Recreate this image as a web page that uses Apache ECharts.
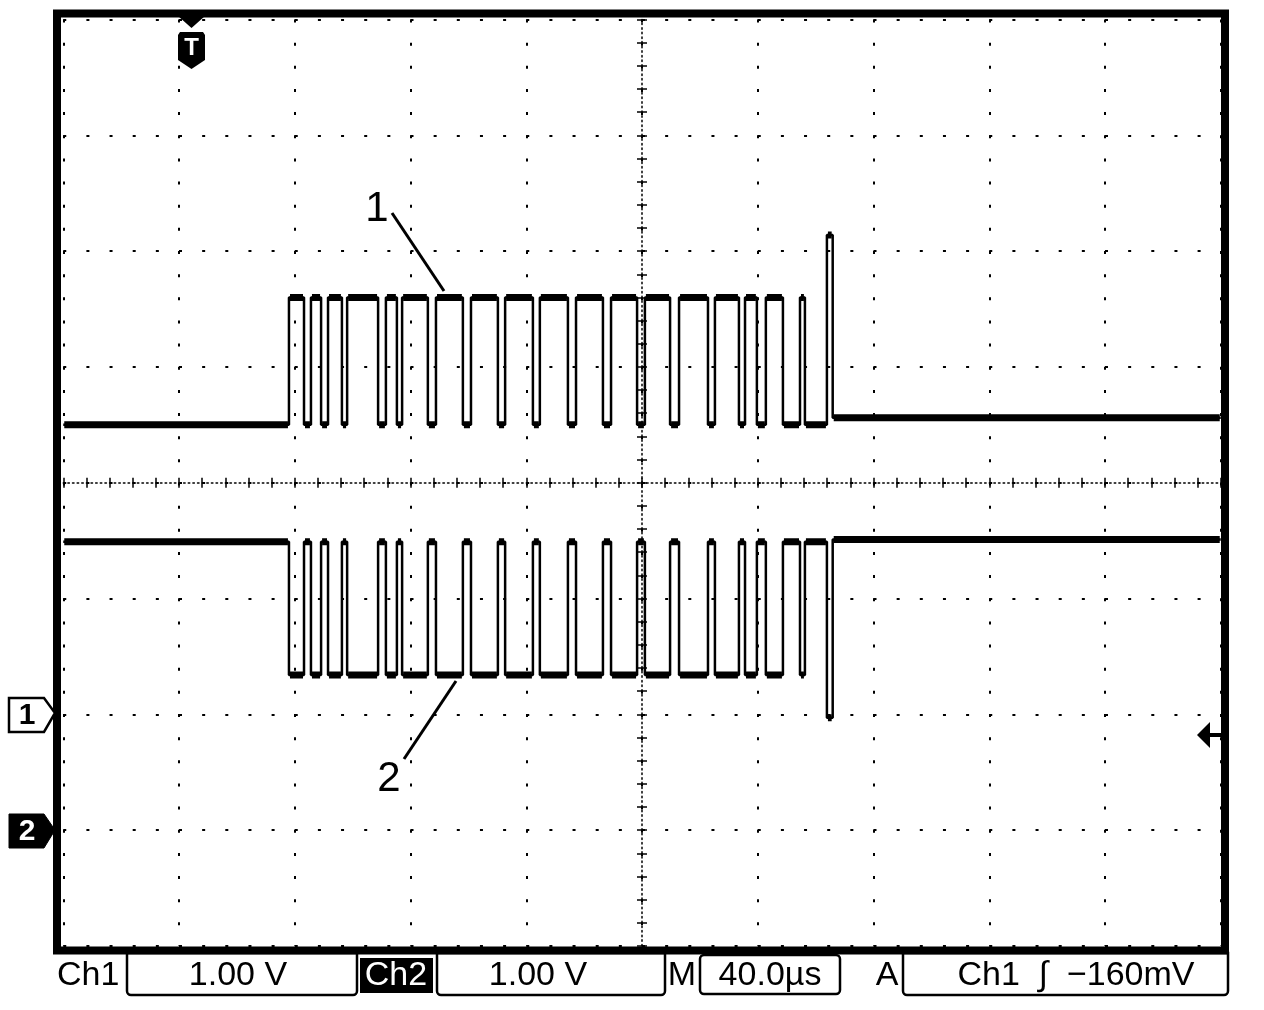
<!DOCTYPE html>
<html>
<head>
<meta charset="utf-8">
<script src="https://cdn.jsdelivr.net/npm/echarts@6/dist/echarts.min.js"></script>
<style>
html,body{margin:0;padding:0;background:#fff;}
#c{width:1264px;height:1010px;}
</style>
</head>
<body>
<div id="c"></div>
<script>
// ---- time base (µs, 40 µs/div, 10 div) ----
const timeRange = [0, 400];
const timeInterval = 40;

// ---- Ch1 (1.00 V/div, ground marker 2 div below centre) ----
const ch1Range = [-2, 6];
const ch1StartLevel = 2.50;
const ch1Times  = [78.0, 83.2, 85.6, 89.1, 91.5, 96.3, 98.1, 108.8, 111.5, 115.3, 117.1, 126.0, 128.8,
                   138.1, 140.9, 150.2, 152.7, 162.3, 164.7, 174.4, 177.2, 186.5, 189.3, 198.3, 201.0,
                   209.7, 212.8, 222.8, 225.2, 233.5, 235.6, 239.7, 242.8, 248.7, 254.6, 256.3, 263.9, 265.9];
const ch1Levels = [3.60, 2.50, 3.60, 2.50, 3.60, 2.50, 3.60, 2.50, 3.60, 2.50, 3.60, 2.50, 3.60,
                   2.50, 3.60, 2.50, 3.60, 2.50, 3.60, 2.50, 3.60, 2.50, 3.60, 2.50, 3.60,
                   2.50, 3.60, 2.50, 3.60, 2.50, 3.60, 2.50, 3.60, 2.50, 3.60, 2.50, 4.14, 2.56];

// ---- Ch2 (1.00 V/div, ground marker 3 div below centre) ----
const ch2Range = [-1, 7];
const ch2StartLevel = 2.49;
const ch2Times  = [78.0, 83.2, 85.6, 89.1, 91.5, 96.3, 98.1, 108.8, 111.5, 115.3, 117.1, 126.0, 128.8,
                   138.1, 140.9, 150.2, 152.7, 162.3, 164.7, 174.4, 177.2, 186.5, 189.3, 198.3, 201.0,
                   209.7, 212.8, 222.8, 225.2, 233.5, 235.6, 239.7, 242.8, 248.7, 254.6, 256.3, 263.9, 265.9];
const ch2Levels = [1.34, 2.49, 1.34, 2.49, 1.34, 2.49, 1.34, 2.49, 1.34, 2.49, 1.34, 2.49, 1.34,
                   2.49, 1.34, 2.49, 1.34, 2.49, 1.34, 2.49, 1.34, 2.49, 1.34, 2.49, 1.34,
                   2.49, 1.34, 2.49, 1.34, 2.49, 1.34, 2.49, 1.34, 2.49, 1.34, 2.49, 0.97, 2.51];

// ---- status bar texts ----
const statusCh1 = "Ch1", statusCh1Scale = "1.00 V";
const statusCh2 = "Ch2", statusCh2Scale = "1.00 V";
const statusM = "M", statusTime = "40.0µs";
const statusA = "A", statusTrig = "Ch1  \u222B  \u2212160mV";
const traceLabels = ["1", "2"];

function stepPoints(times, levels, start, end, startLevel) {
  const pts = [[start, startLevel]];
  let cur = startLevel;
  times.forEach((t, i) => { pts.push([t, cur]); pts.push([t, levels[i]]); cur = levels[i]; });
  pts.push([end, cur]);
  return pts;
}
function flatPoints(times, levels, start, end, startLevel) {
  const pts = [];
  const bounds = [start].concat(times).concat([end]);
  const lv = [startLevel].concat(levels);
  for (let i = 0; i < lv.length; i++) {
    const a = bounds[i], b = bounds[i + 1];
    if (b - a < 1.2) continue;
    pts.push([a + 0.35, lv[i]]); pts.push([b - 0.35, lv[i]]); pts.push(null);
  }
  return pts;
}

const G = {left: 63.25, top: 19.5, width: 1157.5, height: 926.4};
const dot = [3, 20.15];

const chart = echarts.init(document.getElementById('c'), null, {renderer: 'canvas'});
const tickStyle = {color: '#000', width: 1.5};
const statusFont = '34px "Liberation Sans", Arial';

chart.setOption({
  animation: false,
  backgroundColor: '#fff',
  grid: [Object.assign({}, G), Object.assign({}, G), Object.assign({}, G)],
  xAxis: [
    {gridIndex: 0, type: 'value', min: timeRange[0], max: timeRange[1], interval: timeInterval, show: false},
    {gridIndex: 1, type: 'value', min: -5, max: 5, interval: 1, position: 'bottom',
     axisLine: {show: false}, axisLabel: {show: false},
     axisTick: {show: true, inside: true, length: 5, lineStyle: tickStyle},
     minorTick: {show: true, splitNumber: 5, length: 5, lineStyle: tickStyle},
     splitLine: {show: true, lineStyle: {color: '#000', width: 2, type: dot}}},
    {gridIndex: 1, type: 'value', min: -5, max: 5, interval: 1, position: 'top',
     axisLine: {show: false}, axisLabel: {show: false},
     axisTick: {show: true, inside: true, length: 5, lineStyle: tickStyle},
     minorTick: {show: true, splitNumber: 5, length: 5, lineStyle: tickStyle},
     splitLine: {show: false}},
    {gridIndex: 2, type: 'value', min: -5, max: 5, interval: 0.2,
     axisLine: {show: true, onZero: true, lineStyle: {color: '#000', width: 1.5, type: [1.5, 3.13]}},
     axisLabel: {show: false},
     axisTick: {show: true, inside: false, length: 4, lineStyle: tickStyle},
     splitLine: {show: false}}
  ],
  yAxis: [
    {gridIndex: 0, type: 'value', min: ch1Range[0], max: ch1Range[1], show: false},
    {gridIndex: 0, type: 'value', min: ch2Range[0], max: ch2Range[1], show: false},
    {gridIndex: 1, type: 'value', min: -4, max: 4, interval: 1, position: 'left',
     axisLine: {show: false}, axisLabel: {show: false},
     axisTick: {show: true, inside: true, length: 5, lineStyle: tickStyle},
     minorTick: {show: true, splitNumber: 5, length: 5, lineStyle: tickStyle},
     splitLine: {show: true, lineStyle: {color: '#000', width: 2, type: dot}}},
    {gridIndex: 1, type: 'value', min: -4, max: 4, interval: 1, position: 'right',
     axisLine: {show: false}, axisLabel: {show: false},
     axisTick: {show: true, inside: true, length: 5, lineStyle: tickStyle},
     minorTick: {show: true, splitNumber: 5, length: 5, lineStyle: tickStyle},
     splitLine: {show: false}},
    {gridIndex: 2, type: 'value', min: -4, max: 4, interval: 0.2,
     axisLine: {show: true, onZero: true, lineStyle: {color: '#000', width: 1.5, type: [1.5, 3.13]}},
     axisLabel: {show: false},
     axisTick: {show: true, inside: false, length: 4, lineStyle: tickStyle},
     splitLine: {show: false}}
  ],
  series: [
    {name: 'Ch1', type: 'line', xAxisIndex: 0, yAxisIndex: 0, showSymbol: false, silent: true,
     data: stepPoints(ch1Times, ch1Levels, timeRange[0], timeRange[1], ch1StartLevel),
     lineStyle: {color: '#000', width: 2.5}},
    {name: 'Ch1band', type: 'line', xAxisIndex: 0, yAxisIndex: 0, showSymbol: false, silent: true,
     connectNulls: false,
     data: flatPoints(ch1Times, ch1Levels, timeRange[0], timeRange[1], ch1StartLevel),
     lineStyle: {color: '#000', width: 7}},
    {name: 'Ch2', type: 'line', xAxisIndex: 0, yAxisIndex: 1, showSymbol: false, silent: true,
     data: stepPoints(ch2Times, ch2Levels, timeRange[0], timeRange[1], ch2StartLevel),
     lineStyle: {color: '#000', width: 2.5}},
    {name: 'Ch2band', type: 'line', xAxisIndex: 0, yAxisIndex: 1, showSymbol: false, silent: true,
     connectNulls: false,
     data: flatPoints(ch2Times, ch2Levels, timeRange[0], timeRange[1], ch2StartLevel),
     lineStyle: {color: '#000', width: 7}}
  ],
  graphic: [
    {type: 'rect', shape: {x: 57, y: 13.5, width: 1168, height: 937}, style: {fill: null, stroke: '#000', lineWidth: 8}, z: 100},
    {type: 'polygon', shape: {points: [[178, 16], [205, 16], [191.5, 28]]}, style: {fill: '#000'}, z: 100},
    {type: 'polygon', shape: {points: [[180, 32], [203, 32], [205, 35], [205, 60], [191.5, 69], [178, 60], [178, 35]]}, style: {fill: '#000'}, z: 100},
    {type: 'text', x: 191.5, y: 48, style: {text: 'T', fill: '#fff', font: 'bold 24px "Liberation Sans", Arial', align: 'center', verticalAlign: 'middle'}, z: 101},
    {type: 'polygon', shape: {points: [[9, 698], [44, 698], [55, 713], [44, 732], [9, 732]]}, style: {fill: '#fff', stroke: '#000', lineWidth: 2.5}, z: 100},
    {type: 'text', x: 27, y: 716, style: {text: '1', fill: '#000', font: 'bold 30px "Liberation Sans", Arial', align: 'center', verticalAlign: 'middle'}, z: 101},
    {type: 'polygon', shape: {points: [[9, 814], [44, 814], [55, 830], [44, 848], [9, 848]]}, style: {fill: '#000', stroke: '#000', lineWidth: 1}, z: 100},
    {type: 'text', x: 27, y: 832, style: {text: '2', fill: '#fff', font: 'bold 30px "Liberation Sans", Arial', align: 'center', verticalAlign: 'middle'}, z: 101},
    {type: 'polygon', shape: {points: [[1197, 735], [1210, 722], [1210, 748]]}, style: {fill: '#000'}, z: 100},
    {type: 'rect', shape: {x: 1209, y: 733, width: 13, height: 4}, style: {fill: '#000'}, z: 100},
    {type: 'text', x: 377, y: 209, style: {text: traceLabels[0], fill: '#000', font: '42px "Liberation Sans", Arial', align: 'center', verticalAlign: 'middle'}, z: 50},
    {type: 'line', shape: {x1: 392, y1: 213, x2: 444, y2: 291}, style: {stroke: '#000', lineWidth: 3}, z: 50},
    {type: 'text', x: 389, y: 779, style: {text: traceLabels[1], fill: '#000', font: '42px "Liberation Sans", Arial', align: 'center', verticalAlign: 'middle'}, z: 50},
    {type: 'line', shape: {x1: 404, y1: 759, x2: 456, y2: 681}, style: {stroke: '#000', lineWidth: 3}, z: 50},
    {type: 'text', x: 57, y: 976, style: {text: statusCh1, fill: '#000', font: statusFont, align: 'left', verticalAlign: 'middle'}},
    {type: 'rect', shape: {x: 127, y: 953, width: 230, height: 42, r: [0, 0, 4, 4]}, style: {fill: null, stroke: '#000', lineWidth: 2.5}},
    {type: 'text', x: 238, y: 976, style: {text: statusCh1Scale, fill: '#000', font: statusFont, align: 'center', verticalAlign: 'middle'}},
    {type: 'rect', shape: {x: 360, y: 958, width: 73, height: 35}, style: {fill: '#000'}},
    {type: 'text', x: 396, y: 976, style: {text: statusCh2, fill: '#fff', font: statusFont, align: 'center', verticalAlign: 'middle'}},
    {type: 'rect', shape: {x: 437, y: 953, width: 228, height: 42, r: [0, 0, 4, 4]}, style: {fill: null, stroke: '#000', lineWidth: 2.5}},
    {type: 'text', x: 538, y: 976, style: {text: statusCh2Scale, fill: '#000', font: statusFont, align: 'center', verticalAlign: 'middle'}},
    {type: 'text', x: 682, y: 976, style: {text: statusM, fill: '#000', font: statusFont, align: 'center', verticalAlign: 'middle'}},
    {type: 'rect', shape: {x: 700, y: 955, width: 140, height: 39, r: 4}, style: {fill: null, stroke: '#000', lineWidth: 2.5}},
    {type: 'text', x: 770, y: 976, style: {text: statusTime, fill: '#000', font: statusFont, align: 'center', verticalAlign: 'middle'}},
    {type: 'text', x: 887, y: 976, style: {text: statusA, fill: '#000', font: statusFont, align: 'center', verticalAlign: 'middle'}},
    {type: 'rect', shape: {x: 903, y: 953, width: 325, height: 42, r: [0, 0, 4, 4]}, style: {fill: null, stroke: '#000', lineWidth: 2.5}},
    {type: 'text', x: 1076, y: 976, style: {text: statusTrig, fill: '#000', font: statusFont, align: 'center', verticalAlign: 'middle'}}
  ]
});
</script>
</body>
</html>
